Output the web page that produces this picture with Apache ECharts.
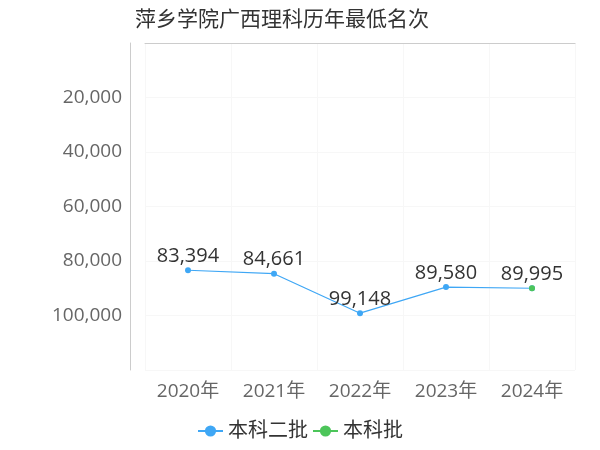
<!DOCTYPE html><html><head><meta charset="utf-8"><script src="https://cdn.jsdelivr.net/npm/echarts@6/dist/echarts.min.js"></script></head><body style="margin:0"><div id="c" style="width:600px;height:450px"></div><script>
const categories=['2020年','2021年','2022年','2023年','2024年'];
const erpi=[83394,84661,99148,89580,89995];
const benke=[null,null,null,null,89995];
const yTicks=[20000,40000,60000,80000,100000];
const fmt=v=>v.toLocaleString('en-US');
const c=echarts.init(document.getElementById('c'));
const ff='"Open Sans", "Noto Sans CJK SC", sans-serif';
c.setOption({
 title:{text:'萍乡学院广西理科历年最低名次',left:130,top:5,textStyle:{fontSize:21,fontWeight:'normal',color:'#333',fontFamily:ff}},
 grid:{left:145,right:25,top:43,bottom:80},
 legend:{bottom:4,itemGap:4,textStyle:{fontSize:20,color:'#333',fontFamily:ff},data:['本科二批','本科批']},
 xAxis:{type:'category',data:categories,boundaryGap:true,axisLine:{lineStyle:{color:'#ccc'}},axisTick:{show:false},
  axisLabel:{fontSize:19,color:'#666',fontFamily:ff,margin:12},splitLine:{show:true,lineStyle:{color:'#f7f7f7'}}},
 yAxis:{type:'value',inverse:true,min:0,max:120000,interval:20000,offset:15,axisLine:{show:true,lineStyle:{color:'#ccc'}},
  axisLabel:{fontSize:19,color:'#666',fontFamily:ff,showMinLabel:false,showMaxLabel:false,formatter:v=>fmt(v)},
  splitLine:{lineStyle:{color:'#f7f7f7'}}},
 series:[
  {name:'本科二批',type:'line',data:erpi,color:'#3fa7f5',symbol:'circle',symbolSize:6,lineStyle:{width:1.2},
   label:{show:true,distance:1,fontSize:20,color:'#333',fontFamily:ff,formatter:p=>p.dataIndex<4?fmt(p.value):''}},
  {name:'本科批',type:'line',data:benke,color:'#4cc55a',symbol:'circle',symbolSize:6,
   label:{show:true,distance:1,fontSize:20,color:'#333',fontFamily:ff,formatter:p=>fmt(p.value)}}
 ]});
</script></body></html>
